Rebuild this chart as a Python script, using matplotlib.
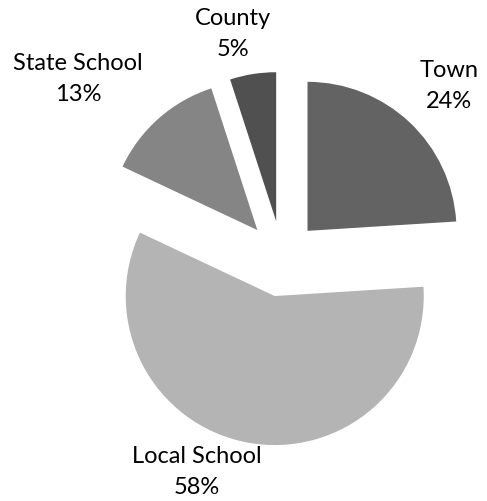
import matplotlib
matplotlib.use("Agg")
import matplotlib.pyplot as plt

categories = ["Town", "Local School", "State School", "County"]
values = [24, 58, 13, 5]
colors = ["#636363", "#b4b4b4", "#858585", "#505050"]
explode = [0.25, 0.26, 0.25, 0.25]

# label anchor positions (layout, in radius units relative to pie centre)
label_pos = [(1.12, 1.16), (-0.57, -1.43), (-1.37, 1.21), (-0.33, 1.51)]

W, H = 487, 502
fig = plt.figure(figsize=(W / 100, H / 100), dpi=100)
ax = fig.add_axes([0, 0, 1, 1])
ax.pie(values, colors=colors, explode=explode, startangle=90,
       counterclock=False, radius=1.0,
       wedgeprops=dict(linewidth=0))

cx, cy, r = 282, 259, 149
ax.set_xlim(-cx / r, (W - cx) / r)
ax.set_ylim(-(H - cy) / r, cy / r)
ax.set_aspect("equal")
ax.axis("off")

total = sum(values)
for cat, v, (x, y) in zip(categories, values, label_pos):
    ax.text(x, y, f"{cat}\n{round(100 * v / total)}%", ha="center", va="center",
            fontsize=17, family=["Lato", "DejaVu Sans"], linespacing=1.6,
            color="black")

fig.savefig("out.png", dpi=100, facecolor="white")
